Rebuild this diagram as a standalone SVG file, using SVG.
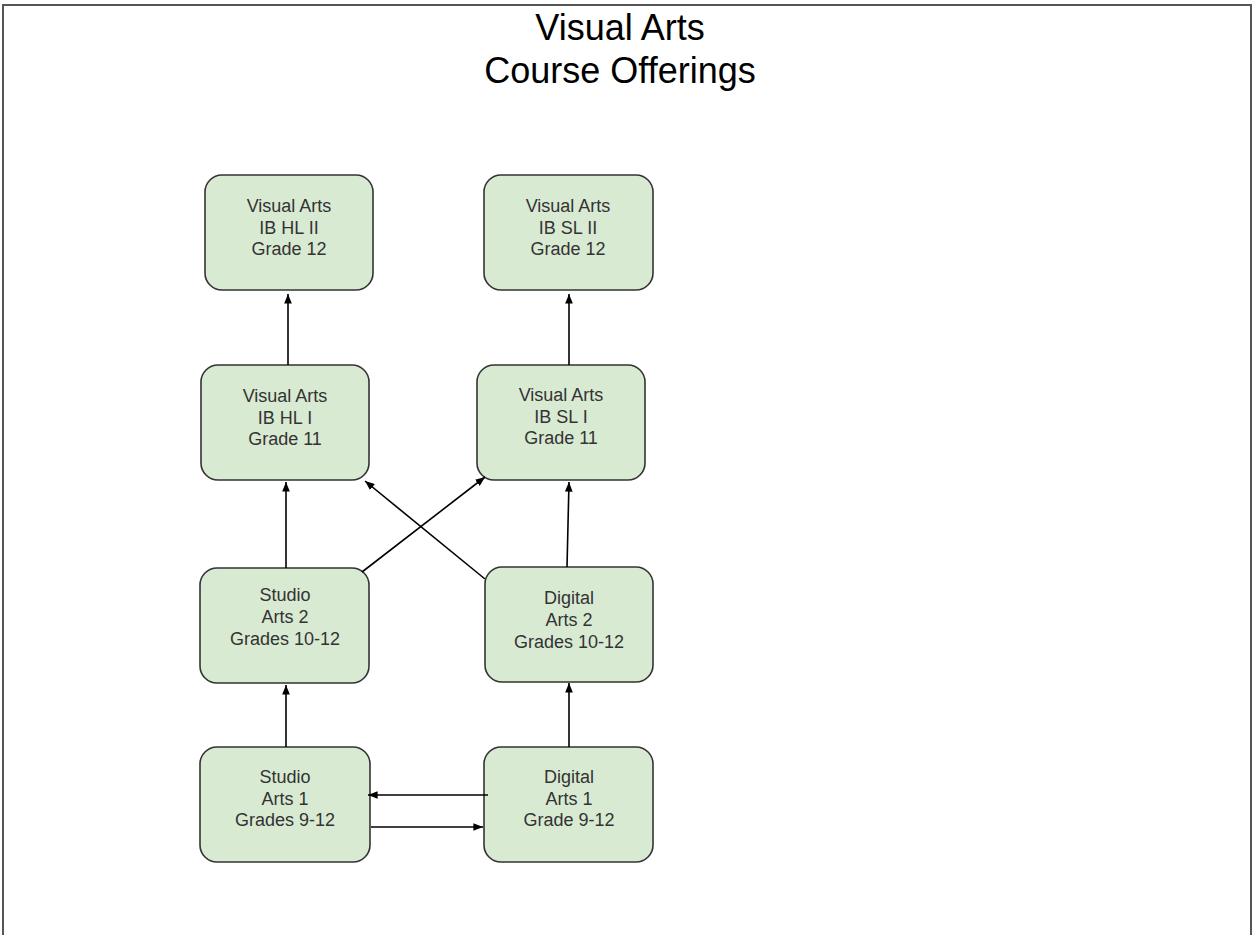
<svg xmlns="http://www.w3.org/2000/svg" width="1253" height="935" viewBox="0 0 1253 935">
<style>
.node rect{fill:#d9ead3;stroke:#333;stroke-width:1.6}
.node text{font-family:"Liberation Sans",Arial,sans-serif;font-size:18px;fill:#333;text-anchor:middle}
.title{font-family:"Liberation Sans",Arial,sans-serif;font-size:36px;fill:#000;text-anchor:middle}
.conn line{stroke:#000;stroke-width:1.6;marker-end:url(#ah)}
</style>
<defs>
<marker id="ah" viewBox="0 0 10 8" refX="10" refY="4" markerWidth="6" markerHeight="4.8" orient="auto" markerUnits="strokeWidth">
<path d="M0,0 L10,4 L0,8 z" fill="#000"/>
</marker>
</defs>
<rect width="1253" height="935" fill="#fff"/>
<path d="M3,940 V5 H1251 V940" fill="none" stroke="#555" stroke-width="2"/>
<text class="title" x="620" y="40">Visual Arts</text>
<text class="title" x="620" y="83">Course Offerings</text>

<g id="hl2" class="node"><rect x="205" y="175" width="168" height="115" rx="17"/>
<text x="289" y="212">Visual Arts</text><text x="289" y="234">IB HL II</text><text x="289" y="255">Grade 12</text></g>
<g id="sl2" class="node"><rect x="484" y="175" width="169" height="115" rx="17"/>
<text x="568" y="212">Visual Arts</text><text x="568" y="234">IB SL II</text><text x="568" y="255">Grade 12</text></g>
<g id="hl1" class="node"><rect x="201" y="365" width="168" height="115" rx="17"/>
<text x="285" y="402">Visual Arts</text><text x="285" y="424">IB HL I</text><text x="285" y="445">Grade 11</text></g>
<g id="sl1" class="node"><rect x="477" y="365" width="168" height="115" rx="17"/>
<text x="561" y="401">Visual Arts</text><text x="561" y="423">IB SL I</text><text x="561" y="444">Grade 11</text></g>
<g id="studio2" class="node"><rect x="200" y="568" width="169" height="115" rx="17"/>
<text x="285" y="601">Studio</text><text x="285" y="623">Arts 2</text><text x="285" y="645">Grades 10-12</text></g>
<g id="digital2" class="node"><rect x="485" y="567" width="168" height="115" rx="17"/>
<text x="569" y="604">Digital</text><text x="569" y="626">Arts 2</text><text x="569" y="648">Grades 10-12</text></g>
<g id="studio1" class="node"><rect x="200" y="747" width="170" height="115" rx="17"/>
<text x="285" y="783">Studio</text><text x="285" y="805">Arts 1</text><text x="285" y="826">Grades 9-12</text></g>
<g id="digital1" class="node"><rect x="484" y="747" width="169" height="115" rx="17"/>
<text x="569" y="783">Digital</text><text x="569" y="805">Arts 1</text><text x="569" y="826">Grade 9-12</text></g>

<g id="connectors" class="conn">
<line x1="288" y1="365" x2="288" y2="294"/>
<line x1="569" y1="365" x2="569" y2="294"/>
<line x1="286" y1="568" x2="286" y2="482"/>
<line x1="567" y1="567" x2="569" y2="482"/>
<line x1="362" y1="572" x2="485" y2="477"/>
<line x1="485" y1="579" x2="365" y2="481"/>
<line x1="286" y1="747" x2="286" y2="685"/>
<line x1="569" y1="747" x2="569" y2="683"/>
<line x1="488" y1="795" x2="368" y2="795"/>
<line x1="371" y1="827" x2="483" y2="827"/>
</g>
</svg>
